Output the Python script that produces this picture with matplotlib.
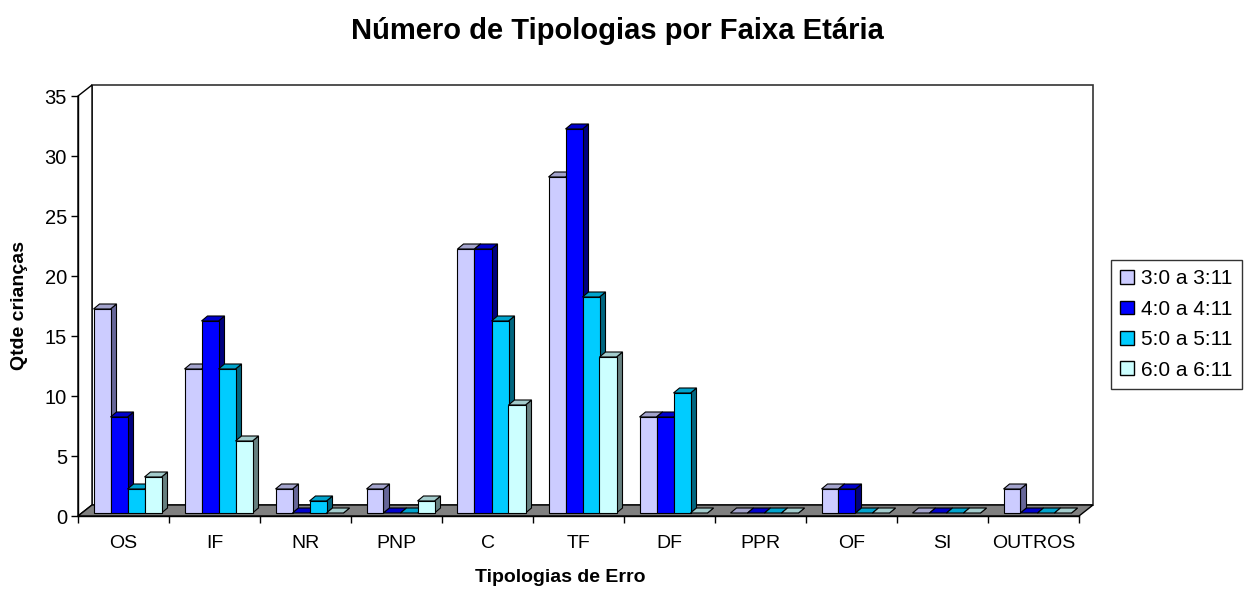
import matplotlib
matplotlib.use('Agg')
import matplotlib.pyplot as plt
from matplotlib.patches import Polygon, Patch
import numpy as np

plt.rcParams['font.family'] = ['Liberation Sans', 'DejaVu Sans']

categories = ['OS', 'IF', 'NR', 'PNP', 'C', 'TF', 'DF', 'PPR', 'OF', 'SI', 'OUTROS']
series_names = ['3:0 a 3:11', '4:0 a 4:11', '5:0 a 5:11', '6:0 a 6:11']
age_3 = [17, 12, 2, 2, 22, 28, 8, 0, 2, 0, 2]
age_4 = [8, 16, 0, 0, 22, 32, 8, 0, 2, 0, 0]
age_5 = [2, 12, 1, 0, 16, 18, 10, 0, 0, 0, 0]
age_6 = [3, 6, 0, 1, 9, 13, 0, 0, 0, 0, 0]
yticks = [0, 5, 10, 15, 20, 25, 30, 35]

series = [age_3, age_4, age_5, age_6]
# front, side, top colours (Excel style shading)
front_cols = ['#CCCCFF', '#0000FF', '#00CCFF', '#CCFFFF']
side_cols = ['#666699', '#000080', '#006680', '#668080']
top_cols = ['#A3A3CC', '#0000CC', '#00A3CC', '#A3CCCC']

fig = plt.figure(figsize=(12.49, 5.91), dpi=100)
ax = fig.add_axes([78 / 1249, 75 / 591, 1001 / 1249, 420 / 591])
n = len(categories)
ax.set_xlim(0, n)
ax.set_ylim(0, 35)

# depth offsets in data units
wdx, wdy = 14 / 91, 11 / 12      # wall depth
fdx, fdy = 4 / 91, 3 / 12        # bar front offset
bdx, bdy = 6 / 91, 5 / 12        # bar depth
bw = 17 / 91

# back wall and left wall
ax.add_patch(Polygon([(wdx, wdy), (n + wdx, wdy), (n + wdx, 35 + wdy), (wdx, 35 + wdy)],
                     closed=True, facecolor='white', edgecolor='#333333', lw=1.2,
                     clip_on=False, zorder=0))
ax.add_patch(Polygon([(0, 0), (wdx, wdy), (wdx, 35 + wdy), (0, 35)],
                     closed=True, facecolor='white', edgecolor='black', lw=1.0,
                     clip_on=False, zorder=0))
# floor
ax.add_patch(Polygon([(0, 0), (n, 0), (n + wdx, wdy), (wdx, wdy)],
                     closed=True, facecolor='#808080', edgecolor='black', lw=1.0,
                     clip_on=False, zorder=1))

group_left = (1 - 4 * bw) / 2
for i in range(n):
    for s, vals in enumerate(series):
        v = vals[i]
        x0 = i + group_left + s * bw + fdx
        y0 = fdy
        x1 = x0 + bw
        y1 = y0 + v
        z = 2 + s
        # side
        ax.add_patch(Polygon([(x1, y0), (x1 + bdx, y0 + bdy), (x1 + bdx, y1 + bdy), (x1, y1)],
                             closed=True, facecolor=side_cols[s], edgecolor='black',
                             lw=0.8, clip_on=False, zorder=z))
        # top
        ax.add_patch(Polygon([(x0, y1), (x1, y1), (x1 + bdx, y1 + bdy), (x0 + bdx, y1 + bdy)],
                             closed=True, facecolor=top_cols[s], edgecolor='black',
                             lw=0.8, clip_on=False, zorder=z))
        # front
        if v > 0:
            ax.add_patch(Polygon([(x0, y0), (x1, y0), (x1, y1), (x0, y1)],
                                 closed=True, facecolor=front_cols[s], edgecolor='black',
                                 lw=0.8, clip_on=False, zorder=z))

for sp in ['top', 'right']:
    ax.spines[sp].set_visible(False)
ax.spines['left'].set_linewidth(1.0)
ax.spines['bottom'].set_linewidth(1.0)
ax.set_yticks(yticks)
ax.set_yticklabels([str(t) for t in yticks], fontsize=14.5)
ax.set_xticks(np.arange(n + 1))
ax.set_xticklabels([])
ax.set_xticks(np.arange(n) + 0.5, minor=True)
ax.set_xticklabels(categories, minor=True, fontsize=14)
ax.tick_params(axis='x', which='minor', length=0, pad=14)
ax.tick_params(axis='x', which='major', direction='out', length=5, width=1)
ax.tick_params(axis='y', direction='out', length=5, width=1, pad=3)
ax.patch.set_visible(False)

fig.text(617 / 1249, 1 - 31 / 591, 'Número de Tipologias por Faixa Etária',
         ha='center', va='center', fontsize=21, fontweight='bold')
fig.text(560 / 1249, 1 - 577 / 591, 'Tipologias de Erro',
         ha='center', va='center', fontsize=14, fontweight='bold')
fig.text(20 / 1249, 1 - 306 / 591, 'Qtde crianças', rotation=90,
         ha='center', va='center', fontsize=14, fontweight='bold')

handles = [Patch(facecolor=front_cols[s], edgecolor='black', lw=1.0) for s in range(4)]
leg = fig.legend(handles, series_names, loc='upper left',
                 bbox_to_anchor=(1111 / 1249, 1 - 260 / 591), fontsize=15,
                 frameon=True, fancybox=False, edgecolor='black',
                 handlelength=0.65, handleheight=0.65, handletextpad=0.35,
                 labelspacing=0.55, borderpad=0.45, borderaxespad=0)
leg.get_frame().set_linewidth(1.0)

fig.savefig('out.png', dpi=100)
